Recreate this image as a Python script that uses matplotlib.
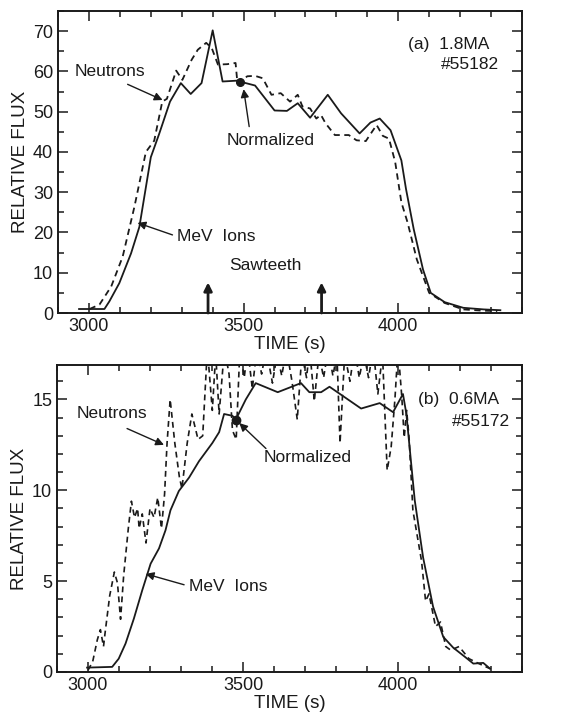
#!/usr/bin/env python3

import matplotlib
matplotlib.use('Agg')
import matplotlib.pyplot as plt
from matplotlib.ticker import MultipleLocator

plt.rcParams['font.family'] = ['Liberation Sans', 'DejaVu Sans']

INK = '#1a1a1a'
FS_NOTE = 12.5

# (a) 1.8MA  #55182
t_a_ions = [2968, 3050, 3066, 3098, 3136, 3163, 3200, 3227, 3262, 3297, 3329, 3364,
            3400, 3432, 3477, 3537, 3600, 3640, 3675, 3715, 3772, 3815, 3875, 3910,
            3940, 3975, 4010, 4025, 4050, 4080, 4105, 4150, 4210, 4276, 4330]
flux_a_ions = [1.0, 1.0, 2.9, 7.4, 14.8, 21.4, 38.7, 44.5, 52.5, 57.1, 54.4, 57.1,
               70.2, 57.5, 57.7, 56.5, 50.3, 50.2, 52.1, 48.5, 54.2, 49.6, 44.6, 47.3,
               48.3, 45.4, 37.9, 30.8, 20.8, 10.8, 5.0, 2.7, 1.3, 0.9, 0.7]

t_a_neut = [3002, 3034, 3072, 3109, 3147, 3184, 3211, 3237, 3252, 3282, 3302, 3332,
            3352, 3379, 3397, 3417, 3447, 3474, 3480, 3512, 3537, 3562, 3590, 3620,
            3650, 3675, 3690, 3715, 3735, 3750, 3765, 3795, 3840, 3865, 3895, 3915,
            3930, 3950, 3970, 3990, 4010, 4030, 4060, 4100, 4150, 4210, 4270, 4320]
flux_a_neut = [1.0, 2.1, 6.6, 14.0, 26.4, 40.0, 42.8, 52.5, 53.2, 60.2, 57.9, 62.9,
               65.4, 67.1, 65.8, 61.7, 61.8, 62.1, 57.1, 58.8, 58.9, 58.3, 54.2, 54.6,
               52.5, 54.2, 51.3, 50.8, 48.3, 49.2, 47.1, 44.2, 44.2, 42.9, 42.7, 45.0,
               46.7, 44.0, 43.3, 37.5, 27.5, 22.5, 13.3, 5.0, 2.5, 0.9, 0.6, 0.5]

norm_a = (3489, 57.4)
sawteeth_a = [3385, 3752]

# (b) 0.6MA  #55172
t_b_ions = [2997, 3078, 3099, 3121, 3148, 3175, 3202, 3229, 3250, 3266, 3293, 3326,
            3358, 3401, 3423, 3439, 3466, 3477, 3509, 3541, 3612, 3687, 3714, 3752,
            3779, 3881, 3941, 3984, 4016, 4027, 4054, 4081, 4113, 4146, 4178, 4216,
            4243, 4275, 4297]
flux_b_ions = [0.24, 0.28, 0.73, 1.56, 2.94, 4.5, 5.96, 6.8, 7.8, 8.9, 9.96, 10.7,
               11.6, 12.6, 13.2, 14.2, 14.1, 13.9, 15.0, 15.9, 15.4, 15.9, 15.4, 15.4,
               15.7, 14.5, 14.8, 14.3, 15.3, 14.2, 9.45, 6.3, 3.6, 1.93, 1.34, 0.83,
               0.46, 0.5, 0.18]

t_b_neut = [3000, 3015, 3030, 3040, 3050, 3055, 3070, 3085, 3095, 3105, 3115, 3130,
            3140, 3150, 3160, 3165, 3175, 3187, 3200, 3213, 3225, 3237, 3247, 3255,
            3265, 3280, 3295, 3303, 3320, 3335, 3355, 3370, 3385, 3401, 3412, 3423,
            3440, 3455, 3466, 3478, 3490, 3504, 3515, 3530, 3545, 3560, 3575, 3595,
            3610, 3625, 3640, 3658, 3675, 3690, 3705, 3715, 3730, 3745, 3760, 3775,
            3790, 3803, 3813, 3828, 3845, 3860, 3875, 3890, 3905, 3920, 3935, 3950,
            3965, 3978, 3990, 4000, 4012, 4020, 4028, 4036, 4048, 4062, 4076, 4089,
            4100, 4121, 4137, 4154, 4170, 4197, 4229, 4261, 4297]
flux_b_neut = [0.1, 0.56, 1.77, 2.33, 1.4, 2.14, 4.2, 5.5, 4.9, 2.9, 5.3, 7.9,
               9.4, 8.5, 9.0, 7.9, 8.7, 7.1, 9.0, 8.5, 9.6, 7.9, 9.8, 12.6,
               15.0, 12.6, 10.7, 10.1, 12.6, 14.2, 12.8, 13.0, 17.8, 14.4, 17.5, 14.2,
               17.8, 16.4, 13.3, 12.8, 17.8, 16.2, 17.8, 15.6, 17.8, 16.4, 17.8, 15.9,
               17.5, 16.3, 17.8, 16.0, 13.9, 17.5, 16.2, 17.8, 14.9, 17.5, 16.2, 17.8,
               16.3, 17.5, 12.6, 17.5, 16.0, 17.8, 16.2, 17.5, 16.2, 17.8, 15.3, 17.5,
               11.1, 12.4, 15.0, 17.8, 15.2, 12.9, 14.4, 12.8, 8.9, 7.5, 6.1, 3.9,
               4.3, 2.5, 2.75, 1.4, 1.2, 1.4, 0.73, 0.46, 0.18]

norm_b = (3477, 13.85)

ARROW = dict(arrowstyle='-|>', color=INK, lw=1.0, mutation_scale=12,
             shrinkA=0, shrinkB=0)


def style_axes(ax, ymax, ymajor, yminor):
    ax.set_xlim(2900, 4400)
    ax.set_ylim(0, ymax)
    ax.xaxis.set_major_locator(MultipleLocator(500))
    ax.xaxis.set_minor_locator(MultipleLocator(100))
    ax.yaxis.set_major_locator(MultipleLocator(ymajor))
    ax.yaxis.set_minor_locator(MultipleLocator(yminor))
    ax.tick_params(which='both', direction='in', top=True, right=True,
                   color=INK, width=1.1, labelsize=13, labelcolor=INK)
    ax.tick_params(which='major', length=7)
    ax.tick_params(which='minor', length=4)
    for s in ax.spines.values():
        s.set_linewidth(1.4)
        s.set_color(INK)
    ax.set_xlabel('TIME (s)', fontsize=13.5, color=INK, labelpad=1)
    ax.set_ylabel('RELATIVE FLUX', fontsize=13.5, color=INK, labelpad=3)


def label(ax, x, y, text, ha='left'):
    ax.text(x, y, text, fontsize=FS_NOTE, color=INK, va='center', ha=ha)


def arrow(ax, tip, tail, **kw):
    props = dict(ARROW)
    props.update(kw)
    ax.annotate('', xy=tip, xytext=tail, arrowprops=props)


def plot_panel_a(ax):
    ax.plot(t_a_ions, flux_a_ions, color=INK, lw=1.3)
    ax.plot(t_a_neut, flux_a_neut, color=INK, lw=1.3, ls=(0, (3.5, 2.5)))
    ax.plot(*norm_a, 'o', color=INK, ms=5.5)
    style_axes(ax, 75, 10, 5)

    label(ax, 2955, 60.1, 'Neutrons')
    arrow(ax, (3238, 52.9), (3125, 56.8))
    label(ax, 3446, 42.8, 'Normalized')
    arrow(ax, (3500, 55.6), (3518, 46.3))
    label(ax, 3286, 18.9, 'MeV  Ions')
    arrow(ax, (3157, 22.4), (3270, 19.4))
    label(ax, 3452, 11.7, 'Sawteeth')
    for ts in sawteeth_a:
        arrow(ax, (ts, 7.6), (ts, 0), lw=2.0)

    label(ax, 4030, 66.7, '(a)  1.8MA')
    label(ax, 4326, 61.8, '#55182', ha='right')


def plot_panel_b(ax):
    ax.plot(t_b_ions, flux_b_ions, color=INK, lw=1.3)
    ax.plot(t_b_neut, flux_b_neut, color=INK, lw=1.2, ls=(0, (3.5, 2.5)))
    ax.plot(*norm_b, 'o', color=INK, ms=6)
    style_axes(ax, 16.9, 5, 1)

    label(ax, 2962, 14.2, 'Neutrons')
    arrow(ax, (3245, 12.5), (3126, 13.4))
    label(ax, 3566, 11.8, 'Normalized')
    arrow(ax, (3488, 13.7), (3574, 12.3))
    label(ax, 3326, 4.7, 'MeV  Ions')
    arrow(ax, (3186, 5.4), (3310, 4.8))

    label(ax, 4063, 15.0, '(b)  0.6MA')
    label(ax, 4363, 13.8, '#55172', ha='right')


def main():
    fig = plt.figure(figsize=(5.65, 7.16), dpi=100)
    ax1 = fig.add_axes([0.1027, 0.5628, 0.8212, 0.4218])
    ax2 = fig.add_axes([0.1009, 0.0615, 0.8230, 0.4288])
    plot_panel_a(ax1)
    plot_panel_b(ax2)
    fig.savefig('out.png', dpi=100)
    print("Saved out.png")


if __name__ == "__main__":
    main()
